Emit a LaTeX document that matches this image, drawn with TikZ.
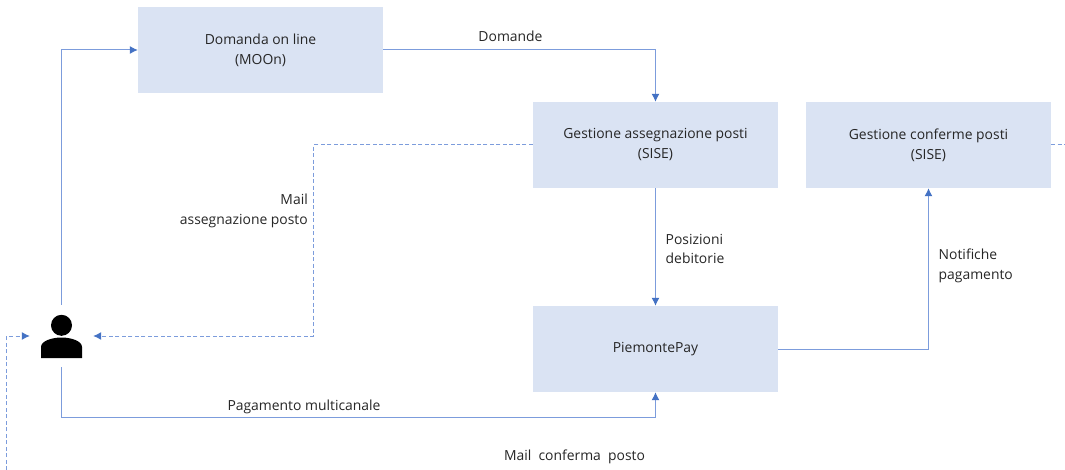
\documentclass[tikz,border=0pt]{standalone}
\usepackage{fontspec}
\setmainfont{Open Sans}
\usetikzlibrary{arrows.meta,calc}
\definecolor{boxfill}{HTML}{DAE3F3}
\definecolor{linecol}{HTML}{4472C4}
\definecolor{wire}{HTML}{7C9CDC}
\definecolor{txt}{HTML}{262626}
\tikzset{
  x=1pt,y=-1pt,
  box/.style={fill=boxfill,draw=none,minimum width=245pt,minimum height=86pt,inner sep=0pt,align=center,font=\fontsize{13.9}{20}\selectfont,text=txt},
  lbl/.style={inner sep=0pt,align=left,font=\fontsize{13.9}{19.5}\selectfont,text=txt},
  conn/.style={draw=wire,line width=1pt,-{Latex[length=8pt,width=8pt,color=linecol]}},
  connd/.style={conn,dash pattern=on 4pt off 2.5pt},
  plain/.style={draw=wire,line width=1pt,dash pattern=on 4pt off 2.5pt},
}
\begin{document}
\begin{tikzpicture}
\useasboundingbox (0,0) rectangle (1065,470);
\node[box] (dom) at (260.5,50) {Domanda on line\\(MOOn)};
\node[box] (ges) at (655.5,145) {Gestione assegnazione posti\\(SISE)};
\node[box] (con) at (928.5,145) {Gestione conferme posti\\(SISE)};
\node[box] (pay) at (655.5,349) {PiemontePay};
\node[minimum width=63pt,minimum height=62pt,inner sep=0pt] (usr) at (61.5,336) {};
\fill[black] (61.5,325.3) circle (10.5);
\fill[black] (41,358) -- (41,347) .. controls (41,341) and (52,337.5) .. (61.5,337.5) .. controls (71,337.5) and (82,341) .. (82,347) -- (82,358) -- cycle;
\coordinate (leftend) at (6.5,470);
\coordinate (rightend) at (1065,145);
\draw[conn] (usr.north) |- (dom.west);
\draw[conn] (dom.east) -| (ges.north);
\draw[conn] (ges.south) -- (pay.north);
\draw[conn] (pay.east) -| (con.south);
\draw[conn] (usr.south) |- ($(pay.south)+(0,25)$) -- (pay.south);
\draw[connd] (ges.west) -| (313.5,336) -- (usr.east);
\draw[connd] (leftend) |- (usr.west);
\draw[plain] (con.east) -- (rightend);
\node[lbl,anchor=center] (l1) at (510.5,36) {Domande};
\node[lbl,align=right,anchor=east] (l2) at (308,211) {Mail\\assegnazione posto};
\node[lbl,anchor=west] (l3) at (665.5,249) {Posizioni\\debitorie};
\node[lbl,anchor=west] (l4) at (938.5,266) {Notifiche\\pagamento};
\node[lbl,anchor=center] (l5) at (304,407) {Pagamento multicanale};
\node[lbl,anchor=center] (l6) at (574.5,456.5) {Mail\ \ conferma\ \ posto};
\end{tikzpicture}
\end{document}
